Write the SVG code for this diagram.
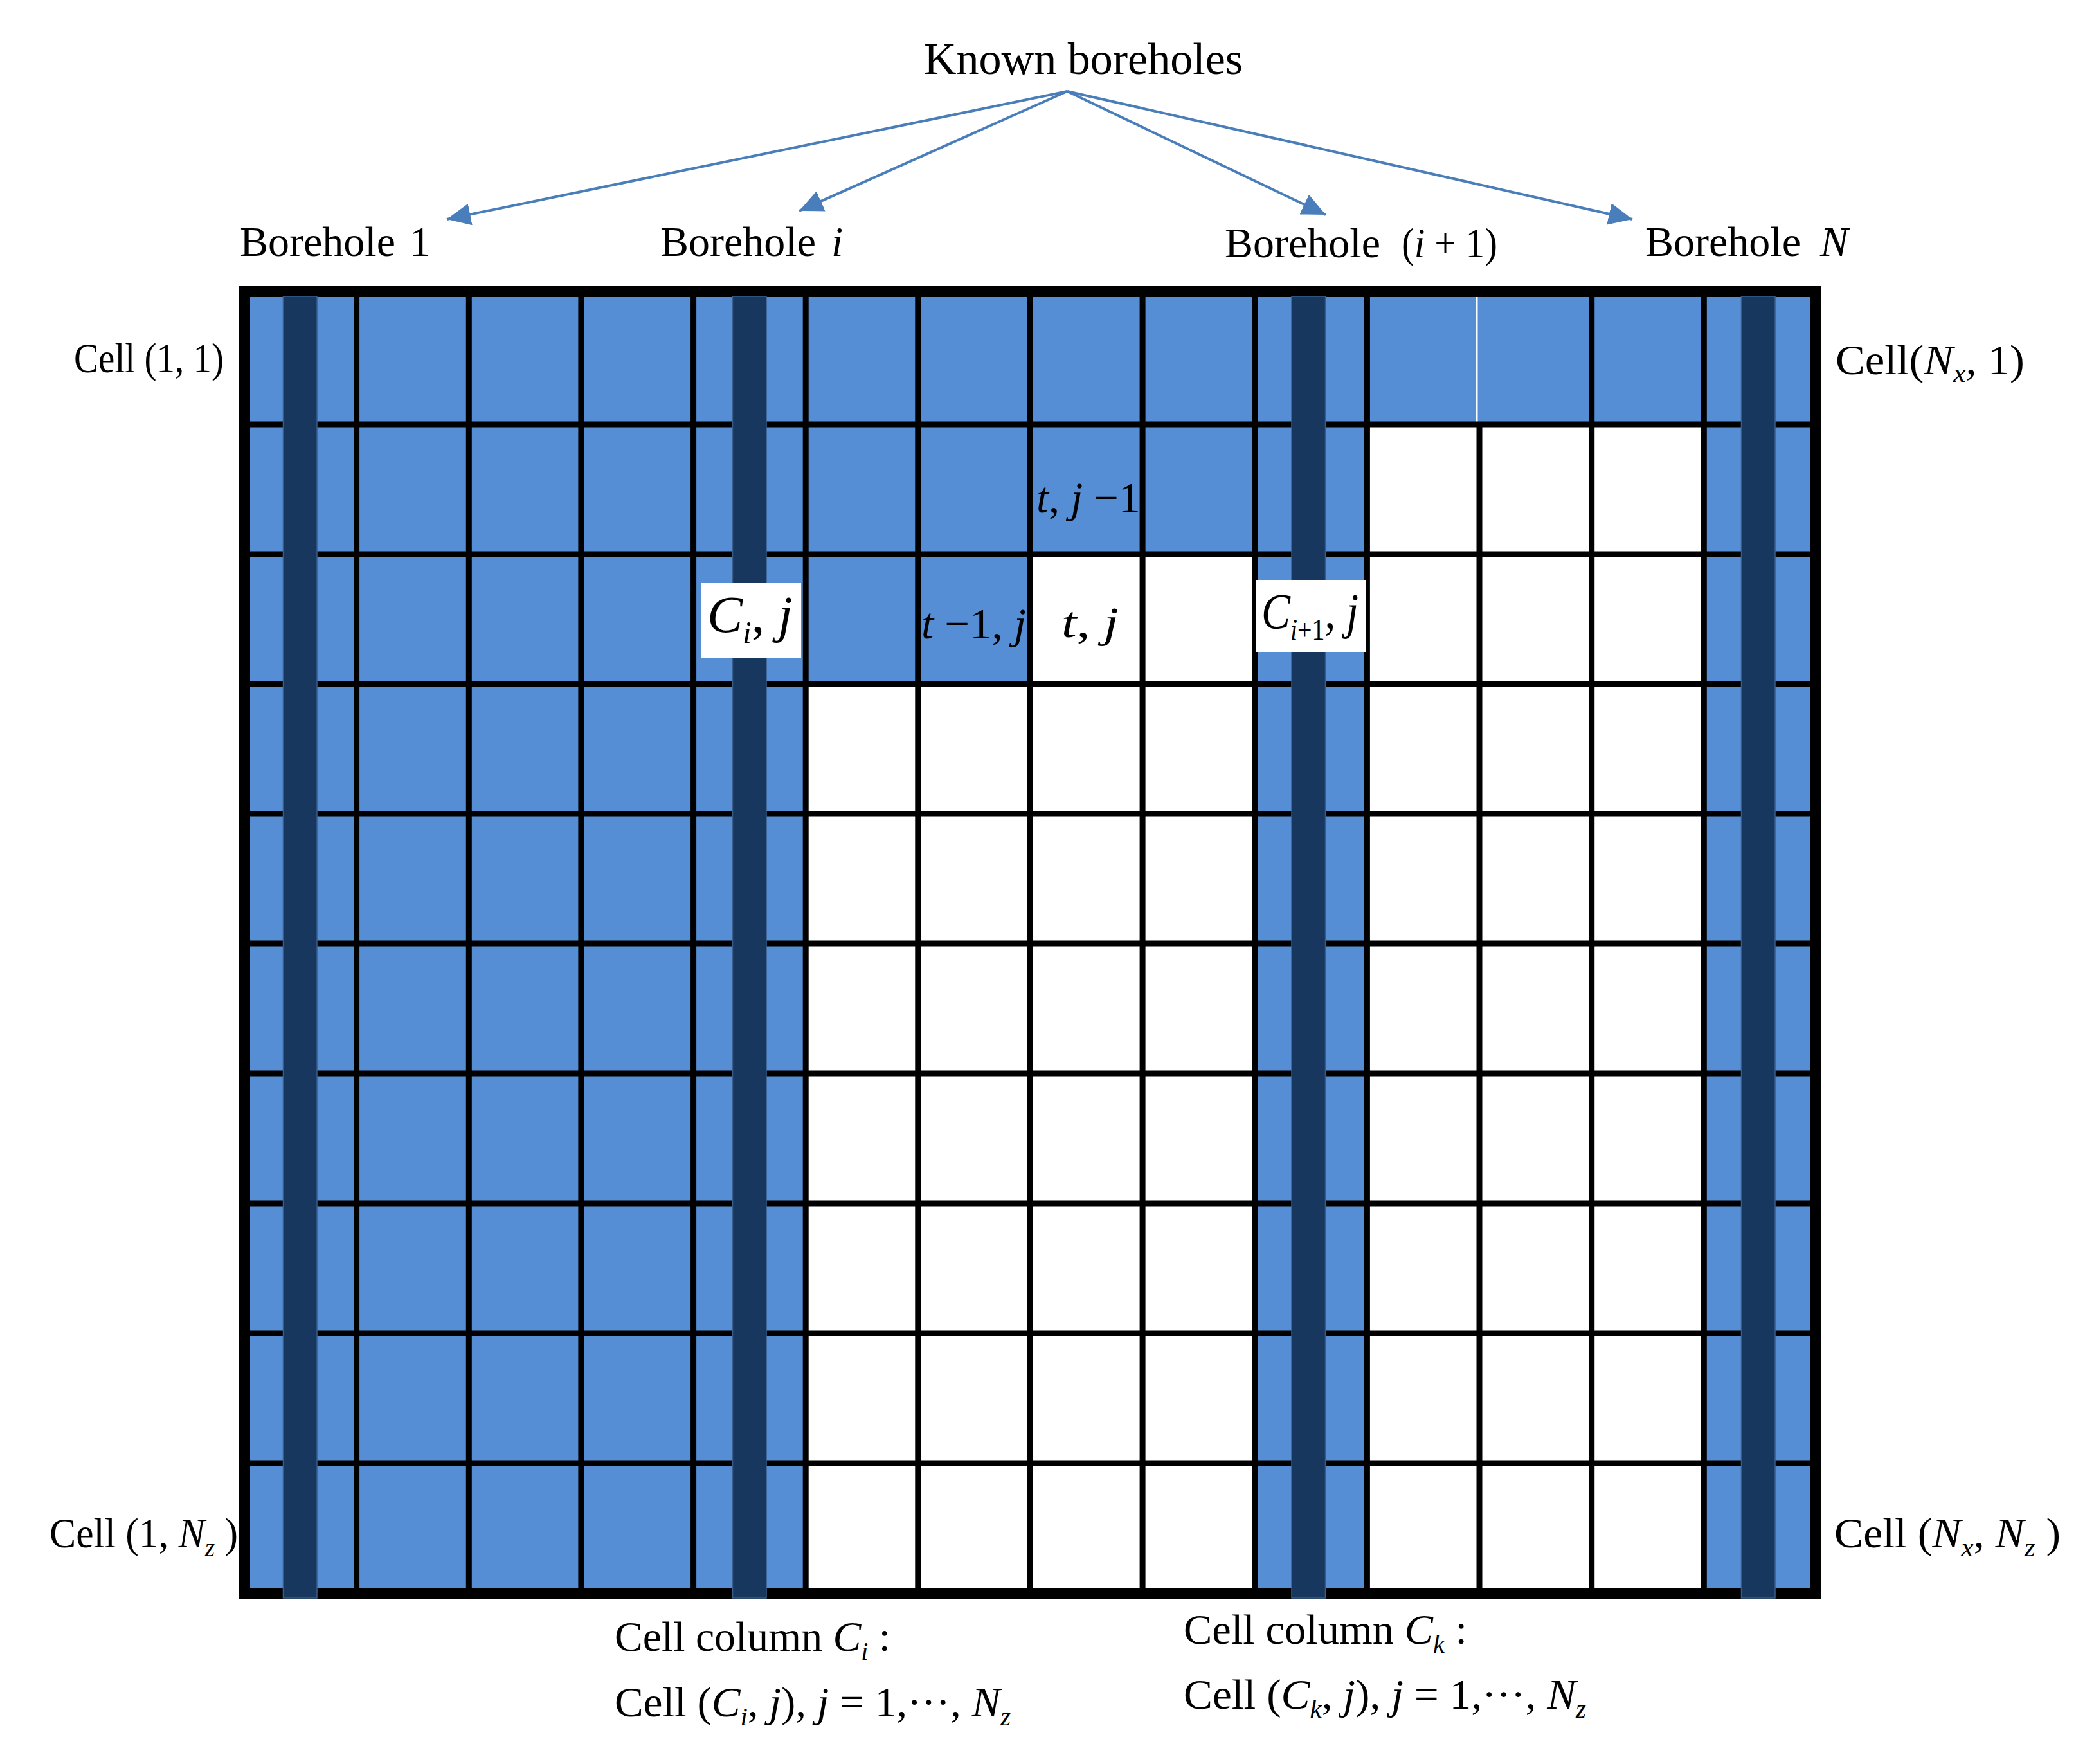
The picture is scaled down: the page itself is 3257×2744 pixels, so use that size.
<svg xmlns="http://www.w3.org/2000/svg" width="3257" height="2744" viewBox="0 0 3257 2744">
<style>
text{font-family:"Liberation Serif","Times New Roman",serif;fill:#000}
.lbl{font-size:66px}
.it{font-style:italic}
.gl{stroke:#000;stroke-width:9;fill:none}
.bar{fill:#17375E;stroke:#385D8A;stroke-width:1.5}
.con{stroke:#4A7EBB;stroke-width:4;fill:none;marker-end:url(#ah)}
</style>
<defs>
<marker id="ah" viewBox="0 -17 37 34" refX="37" refY="0" markerWidth="37" markerHeight="34" markerUnits="userSpaceOnUse" orient="auto">
<path d="M0,-17 L37,0 L0,17 z" fill="#4A7EBB"/>
</marker>
</defs>
<rect width="3257" height="2744" fill="#fff"/>

<g id="grid">
<rect x="380" y="453" width="2445" height="2025" fill="#558ED5"/>
<rect x="2126.4" y="660" width="523.9" height="1818" fill="#fff"/>
<rect x="1253.2" y="1064" width="698.6" height="1414" fill="#fff"/>
<rect x="1602.5" y="862" width="349.3" height="202" fill="#fff"/>
<path class="gl" d="M554.6,462V2470M729.3,462V2470M903.9,462V2470M1078.6,462V2470M1253.2,462V2470M1427.8,462V2470M1602.5,462V2470M1777.1,462V2470M1951.8,462V2470M2126.4,462V2470M2301,656V2470M2475.7,462V2470M2650.3,462V2470"/>
<path d="M2297,462V656" stroke="#fff" stroke-width="3"/>
<path class="gl" d="M389,660H2816M389,862H2816M389,1064H2816M389,1266H2816M389,1468H2816M389,1670H2816M389,1872H2816M389,2074H2816M389,2276H2816"/>
<rect x="380.5" y="453.5" width="2444" height="2025" fill="none" stroke="#000" stroke-width="17"/>
</g>

<g id="borehole-columns">
<rect class="bar" x="440.5" y="461" width="52.5" height="2025"/>
<rect class="bar" x="1139.5" y="461" width="52.5" height="2025"/>
<rect class="bar" x="2009" y="461" width="52.5" height="2025"/>
<rect class="bar" x="2708.5" y="461" width="52.5" height="2025"/>
</g>

<g id="connectors">
<line class="con" x1="1660" y1="142" x2="695" y2="341"/>
<line class="con" x1="1660" y1="142" x2="1243" y2="328"/>
<line class="con" x1="1660" y1="142" x2="2062" y2="334"/>
<line class="con" x1="1660" y1="142" x2="2539" y2="341"/>
</g>

<g id="known-boreholes">
<text x="1437" y="115" font-size="70" textLength="496" lengthAdjust="spacingAndGlyphs">Known boreholes</text>
</g>

<g id="borehole-1">
<text class="lbl" x="373" y="398">Borehole</text>
<text class="lbl" x="637" y="398">1</text>
</g>
<g id="borehole-i">
<text class="lbl" x="1027" y="398">Borehole</text>
<text class="lbl it" x="1293" y="398">i</text>
</g>
<g id="borehole-i1">
<text class="lbl" x="1905" y="400">Borehole</text>
<text class="lbl" x="2180" y="400" textLength="149" lengthAdjust="spacingAndGlyphs">(<tspan class="it">i</tspan> + 1)</text>
</g>
<g id="borehole-N">
<text class="lbl" x="2559" y="398">Borehole</text>
<text class="lbl it" x="2831" y="398">N</text>
</g>

<g id="cell-1-1">
<text class="lbl" x="115" y="579" textLength="233" lengthAdjust="spacingAndGlyphs">Cell (1, 1)</text>
</g>
<g id="cell-Nx-1">
<text class="lbl" x="2855" y="582" textLength="294" lengthAdjust="spacingAndGlyphs">Cell(<tspan class="it">N</tspan><tspan class="it" font-size="42" dy="12">x</tspan><tspan dy="-12">, 1)</tspan></text>
</g>
<g id="cell-1-Nz">
<text class="lbl" x="77" y="2407" textLength="293" lengthAdjust="spacingAndGlyphs">Cell (1, <tspan class="it">N</tspan><tspan class="it" font-size="42" dy="14">z</tspan><tspan dy="-14"> )</tspan></text>
</g>
<g id="cell-Nx-Nz">
<text class="lbl" x="2853" y="2407" textLength="352" lengthAdjust="spacingAndGlyphs">Cell (<tspan class="it">N</tspan><tspan class="it" font-size="42" dy="14">x</tspan><tspan dy="-14">, </tspan><tspan class="it">N</tspan><tspan class="it" font-size="42" dy="14">z</tspan><tspan dy="-14"> )</tspan></text>
</g>

<g id="cell-column-Ci">
<text class="lbl" x="956" y="2568" textLength="429" lengthAdjust="spacingAndGlyphs">Cell  column <tspan class="it">C</tspan><tspan class="it" font-size="40" dy="14">i</tspan><tspan dy="-14"> :</tspan></text>
<text class="lbl" x="956" y="2670" textLength="616" lengthAdjust="spacingAndGlyphs">Cell (<tspan class="it">C</tspan><tspan class="it" font-size="40" dy="14">i</tspan><tspan dy="-14">, </tspan><tspan class="it">j</tspan>), <tspan class="it">j</tspan> = 1,···, <tspan class="it">N</tspan><tspan class="it" font-size="40" dy="14">z</tspan></text>
</g>
<g id="cell-column-Ck">
<text class="lbl" x="1841" y="2557" textLength="441" lengthAdjust="spacingAndGlyphs">Cell  column <tspan class="it">C</tspan><tspan class="it" font-size="40" dy="14">k</tspan><tspan dy="-14"> :</tspan></text>
<text class="lbl" x="1841" y="2658" textLength="626" lengthAdjust="spacingAndGlyphs">Cell (<tspan class="it">C</tspan><tspan class="it" font-size="40" dy="14">k</tspan><tspan dy="-14">, </tspan><tspan class="it">j</tspan>), <tspan class="it">j</tspan> = 1,···, <tspan class="it">N</tspan><tspan class="it" font-size="40" dy="14">z</tspan></text>
</g>

<g id="cell-Ci-j">
<rect x="1090" y="907" width="156" height="116" fill="#fff"/>
<text x="1100" y="983" font-size="80" textLength="133" lengthAdjust="spacingAndGlyphs"><tspan class="it">C</tspan><tspan class="it" font-size="48" dy="17">i</tspan><tspan dy="-17">, </tspan><tspan class="it">j</tspan></text>
</g>
<g id="cell-Ci1-j">
<rect x="1953" y="902" width="171" height="112" fill="#fff"/>
<text x="1962" y="977" font-size="78" textLength="151" lengthAdjust="spacingAndGlyphs"><tspan class="it">C</tspan><tspan font-size="46" dy="18"><tspan class="it">i</tspan>+1</tspan><tspan dy="-18">, </tspan><tspan class="it">j</tspan></text>
</g>
<g id="cell-t-jm1">
<text x="1612" y="797" font-size="68" textLength="162" lengthAdjust="spacingAndGlyphs"><tspan class="it">t</tspan>, <tspan class="it">j</tspan> −1</text>
</g>
<g id="cell-tm1-j">
<text x="1433" y="993" font-size="68" textLength="163" lengthAdjust="spacingAndGlyphs"><tspan class="it">t</tspan> −1, <tspan class="it">j</tspan></text>
</g>
<g id="cell-t-j">
<text x="1651" y="991" font-size="68" textLength="89" lengthAdjust="spacingAndGlyphs"><tspan class="it">t</tspan>, <tspan class="it">j</tspan></text>
</g>
</svg>
